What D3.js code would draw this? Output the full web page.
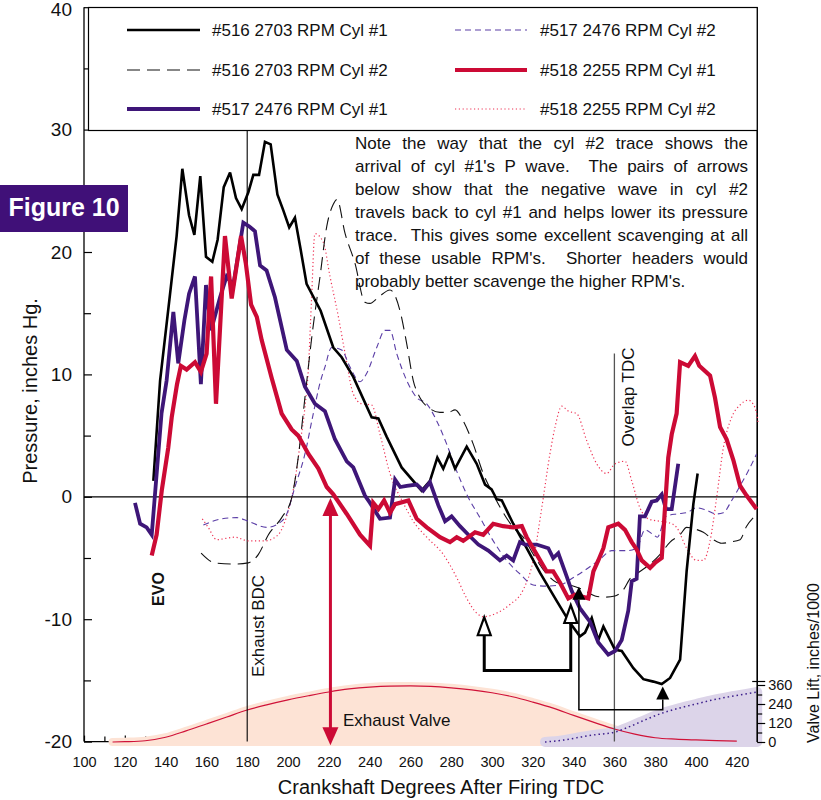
<!DOCTYPE html>
<html><head><meta charset="utf-8">
<script src="https://cdn.jsdelivr.net/npm/d3@7"></script>
<style>
body{margin:0;background:#fff;}
svg{display:block;font-family:"Liberation Sans",Arial,Helvetica,sans-serif;}
</style></head><body>
<svg id="c" width="821" height="800"></svg>
<script>
// ---------------- DATA ----------------
const xTicks = [100,120,140,160,180,200,220,240,260,280,300,320,340,360,380,400,420];
const yTicks = [-20,-10,0,10,20,30,40];
const liftTicks = [0,120,240,360];

// [crank degrees, pressure inches Hg]
const s516c1 = [[134,1.3],[137.3,9.5],[142.2,16.6],[145.4,21.3],[148.2,26.8],[151.5,23.0],[154.1,21.4],[157,26.2],[159.8,19.6],[162.9,19.2],[165.5,21.0],[168.5,25.3],[171.6,26.5],[174.5,24.4],[177.3,23.5],[180.6,24.9],[183,26.3],[185.8,26.3],[188.7,29.0],[191.5,28.8],[194.8,24.7],[197.7,23.4],[200.6,22.0],[203.4,22.8],[206.2,20.2],[209.1,17.4],[216,15.2],[222.2,12.2],[226.3,11.4],[232,9.8],[241,6.5],[244.3,6.4],[248.4,4.9],[255.7,2.4],[265.5,0.5],[269.6,1.3],[273.2,3.2],[276.1,2.3],[279.1,3.5],[281.9,2.3],[287.6,4.1],[292.5,2.7],[296.6,1.0],[299.8,0.6],[302.3,-0.2],[304.8,-0.3],[310.4,-2.2],[317,-4.2],[323.5,-6.2],[331.7,-8.5],[338.2,-10.3],[343.1,-11.4],[345.6,-11.1],[348.9,-9.9],[352.1,-11.7],[354.6,-10.6],[360.3,-12.5],[363.6,-12.6],[369.3,-14.0],[374.2,-14.9],[379.1,-15.1],[383.2,-15.3],[387.3,-14.8],[392.2,-13.3],[395.4,-6.1],[398.7,-0.6],[400.8,1.9]];

const s516c2 = [[157.4,-4.6],[164.2,-5.4],[174,-5.5],[180.5,-5.4],[185.5,-4.7],[190.4,-3.1],[196.9,-1.7],[201.8,-0.1],[205,3.2],[208.3,8.1],[212,13.5],[215.7,18.0],[219,22.1],[222.2,23.9],[224,24.3],[228,21.5],[232.8,19.1],[237.7,15.9],[240.2,15.8],[244.3,16.3],[250,16.9],[254.9,15.2],[258.2,12.5],[261.4,9.5],[264.7,8.1],[269.6,7.2],[274.5,6.9],[278.6,6.9],[281.9,7.1],[285.9,6.2],[290.8,4.3],[295.7,1.9],[300.6,0.2],[304.8,-1.1],[310.4,-2.5],[315.3,-3.3],[320.2,-4.7],[326.8,-6.3],[331.7,-7.0],[338.2,-7.2],[344.8,-7.6],[350.5,-8.1],[355.4,-8.2],[360.3,-8.1],[364.4,-7.6],[367.6,-6.7],[372.5,-6.1],[377.5,-5.5],[382.4,-4.7],[387.3,-3.7],[392.2,-3.1],[395.4,-2.5],[398.7,-2.6],[403.6,-2.9],[408.5,-3.5],[412.6,-3.8],[416.6,-3.7],[421.6,-3.5],[424.8,-2.4],[428.1,-1.7],[430,-1.4]];

const s517c1 = [[125,-0.5],[127.5,-2.2],[130.7,-2.5],[133.2,-3.1],[138,6.8],[140.5,9.5],[143.8,15.1],[146.2,10.9],[149.2,14.4],[151.5,16.6],[154.4,18.0],[157.3,9.2],[159.8,17.3],[162.3,13.6],[166.7,16.3],[169.9,18.0],[173.2,17.3],[178.1,22.4],[180.9,22.1],[183.8,21.7],[186.3,18.9],[189.5,18.5],[193.6,16.3],[199.4,12.0],[204.3,11.1],[208.3,9.0],[213.2,7.6],[218.1,7.0],[223,4.7],[228.8,2.9],[232,2.4],[237.7,0.1],[240.2,-0.5],[245.1,-1.8],[250,-1.7],[252.5,1.4],[255,0.8],[258.2,0.9],[263.1,1.0],[266.3,0.5],[269.6,1.2],[273.7,-0.7],[277,-2.0],[280.2,-1.6],[284.3,-2.4],[288.4,-3.1],[293.3,-3.9],[298.2,-4.4],[303.9,-5.2],[307.2,-4.8],[310.4,-5.2],[313.7,-3.7],[316.2,-3.9],[321.9,-3.9],[327.6,-4.2],[330,-5.0],[332.5,-4.6],[336.6,-6.5],[339.1,-7.7],[343.1,-9.1],[348,-10.2],[352.1,-11.9],[357,-12.9],[360.3,-12.6],[363.6,-11.7],[366.8,-9.3],[368.5,-6.9],[370.9,-6.7],[372.5,-1.6],[375,-1.6],[378.3,-0.4],[380.7,-0.3],[383.2,0.2],[385.3,-1.0],[388.1,-1.0],[391.3,2.7]];

const s517c2 = [[158.5,-2.3],[167.5,-1.8],[174.8,-1.7],[180.5,-2.0],[189.5,-2.5],[195.2,-2.2],[199.4,-1.4],[203.4,0.8],[208.3,3.5],[212.4,6.8],[215.7,9.3],[218.1,10.6],[221.4,12.2],[226.3,12.0],[230.4,10.6],[235.3,9.4],[238.6,10.1],[243.5,12.2],[247.5,13.6],[250,13.6],[253.3,11.7],[258.2,9.5],[263.1,8.1],[268,7.6],[272.9,6.2],[277.8,4.3],[282.7,2.1],[287.6,0.2],[294.1,-1.7],[300.6,-3.6],[307.2,-5.2],[313.7,-6.3],[320.2,-7.2],[326.8,-7.3],[333.3,-7.2],[339.9,-6.6],[346.4,-5.9],[353,-5.1],[358.7,-4.4],[366,-4.4],[370.9,-4.2],[375,-2.7],[379.1,-3.1],[381,-3.3],[385.3,-1.6],[390.5,-1.4],[395.4,-1.3],[400.3,-0.9],[405.2,-1.1],[410.1,-1.4],[413.4,-1.3],[417.5,-0.3],[421.6,0.9],[425.6,2.1],[429.7,3.5]];

const s518c1 = [[133.2,-4.8],[135.6,-3.1],[138.1,0.5],[141.3,4.0],[143,6.5],[145.6,9.2],[147.5,10.7],[150.3,10.4],[154.4,11.0],[157.3,10.2],[160.1,11.7],[162.3,18.0],[164.7,7.6],[169.1,21.3],[172.4,16.2],[177,21.3],[179.3,19.1],[181.9,15.7],[184.7,14.7],[187.1,12.8],[192,9.7],[196.9,6.8],[201.8,5.5],[205,5.0],[210,3.5],[214.9,2.3],[219,0.8],[222.2,0.2],[228.8,-1.4],[235.3,-3.1],[240.2,-4.0],[241.8,-0.5],[244.3,-1.0],[247.1,-0.3],[250,-1.3],[252.5,-0.6],[259,-0.3],[263.1,-1.8],[268,-2.5],[274.5,-3.3],[279.4,-3.7],[282.7,-3.3],[285.9,-3.6],[291.7,-2.9],[295.7,-3.1],[300.6,-2.2],[305.5,-2.4],[310.4,-2.5],[314.6,-2.4],[317,-3.3],[321.9,-4.7],[326.8,-6.1],[330,-6.1],[333.3,-7.0],[337.4,-8.3],[340.7,-8.0],[347.2,-8.3],[349.7,-6.1],[352.1,-5.2],[354.6,-4.2],[357,-2.5],[361.9,-2.2],[365.2,-2.7],[368.5,-3.7],[370.9,-4.3],[373.4,-5.2],[377.5,-5.8],[379.9,-5.4],[383.2,-5.0],[386.4,3.2],[388.1,5.1],[390.5,6.8],[392.2,11.0],[396.2,10.7],[399.5,11.5],[401.6,10.7],[406.9,9.9],[409.3,8.1],[411.8,5.7],[415,4.7],[418.3,3.0],[421.6,0.9],[424.8,0.1],[429.7,-1.0]];

const s518c2 = [[158,-1.8],[160.9,-2.5],[165,-3.5],[174,-3.3],[180.5,-3.6],[188.7,-3.6],[195.2,-3.1],[198.5,-2.0],[201,-0.6],[203.4,1.3],[205.9,4.3],[208.3,7.3],[210,10.5],[211.5,16.0],[213.2,21.5],[217.3,20.8],[220.6,18.0],[224.7,14.7],[228,11.7],[232,8.4],[236.1,7.6],[241,7.5],[245.1,5.1],[250,1.9],[256.5,-0.5],[261.4,-2.0],[268,-3.3],[276.1,-4.7],[282.7,-6.6],[287.6,-8.3],[292.5,-9.5],[295.7,-9.8],[302.3,-9.5],[308.8,-8.8],[315.3,-7.6],[320.2,-5.2],[324.4,-0.9],[328.4,3.5],[330.9,5.7],[334.2,7.4],[337.4,7.0],[341.5,6.8],[346.4,4.6],[351.3,2.7],[356.2,1.9],[360.3,2.7],[365.2,2.9],[368.5,1.3],[372.5,-0.9],[376.6,-1.8],[382.4,-2.0],[386.4,-2.1],[390.5,-2.5],[395.4,-4.2],[400.3,-5.2],[403.6,-5.2],[406.9,-3.6],[410.1,-0.1],[413.4,4.0],[417.5,6.5],[421.6,7.5],[425.6,7.9],[428.9,7.3],[430.5,6.0]];

// valve lift, inches/1000
const exhaustLift = [[114,0],[120,2],[130,8],[140,30],[150,70],[160,114],[170,158],[180,202],[190,236],[200,266],[210,292],[220,316],[230,335],[240,347],[250,353],[260,354],[270,351],[280,342],[290,329],[300,311],[310,286],[320,252],[330,214],[340,168],[350,124],[360,82],[370,50],[380,27],[390,18],[400,13],[410,9],[420,5]];
const intakeLift = [[326,0],[335,12],[343,30],[350,45],[360,62],[368,100],[376,145],[384,185],[392,215],[400,240],[408,265],[416,285],[424,302],[430,316]];

const seriesNames = ["#516 2703 RPM Cyl #1","#516 2703 RPM Cyl #2","#517 2476 RPM Cyl #1","#517 2476 RPM Cyl #2","#518 2255 RPM Cyl #1","#518 2255 RPM Cyl #2"];

const noteLines = [
 "Note the way that the cyl #2 trace shows the",
 "arrival of cyl #1's P wave.  The pairs of arrows",
 "below show that the negative wave in cyl #2",
 "travels back to cyl #1 and helps lower its pressure",
 "trace.  This gives some excellent scavenging at all",
 "of these usable RPM's.  Shorter headers would",
 "probably better scavenge the higher RPM's."
];

// annotation anchors in data units
const bdcDeg = 180, tdcDeg = 360, tdcTopP = 11.7;
const redArrow = {deg:220.8, fromP:-0.1, toP:-20.3};
const hollowPair = {l:296.2, lTip:-9.84, r:338.6, rTip:-8.84, base:-14.2};
const solidPair = {l:342.6, lTip:-7.34, r:383.7, rTip:-15.5, base:-17.4};

// ---------------- CHART ----------------
const svg = d3.select('#c');
const x = d3.scaleLinear().domain([100,430]).range([84,757.2]);
const y = d3.scaleLinear().domain([-20,40]).range([741.6,7.2]);
const yL = d3.scaleLinear().domain([0,360]).range([742,685]);
const FONT = '"Liberation Sans",Arial,Helvetica,sans-serif';
const fmt = d => String(d);

const purple = '#3e1678', red = '#cc0a35';

function styleAxis(g, fs){
  g.attr('font-family', FONT);
  g.selectAll('text').attr('font-size', fs).attr('fill','#111');
  g.selectAll('line').attr('stroke','#000').attr('stroke-width',1.2);
  g.select('.domain').remove();
}
const gB = svg.append('g').attr('transform',`translate(0,${y(-20)})`)
  .call(d3.axisBottom(x).tickValues(xTicks).tickSizeInner(-6).tickSizeOuter(0).tickPadding(15).tickFormat(fmt));
styleAxis(gB, 14.5);
const gB2 = svg.append('g').attr('transform',`translate(0,${y(-20)})`)
  .call(d3.axisBottom(x).tickValues(d3.range(110,431,20)).tickSizeInner(-5).tickSizeOuter(0).tickFormat(''));
styleAxis(gB2, 1);
svg.append('line').attr('x1',x(100)).attr('x2',x(430)).attr('y1',y(-20)).attr('y2',y(-20)).attr('stroke','#000').attr('stroke-width',1.3);

// valve lift fills
const exArea = d3.area().x(d=>x(d[0])).y0(yL(0)).y1(d=>yL(d[1])).curve(d3.curveMonotoneX);
svg.append('path').datum(exhaustLift).attr('d',exArea).attr('fill','#fde3d5').attr('stroke','#fde3d5').attr('stroke-width',8).attr('stroke-linejoin','round');
svg.append('path').datum(intakeLift).attr('d',exArea).attr('fill','#dcd4e9').attr('stroke','#dcd4e9').attr('stroke-width',10).attr('stroke-linejoin','round');
const liftLine = d3.line().x(d=>x(d[0])).y(d=>yL(d[1])).curve(d3.curveMonotoneX);
svg.append('path').datum(exhaustLift).attr('d',liftLine).attr('fill','none').attr('stroke','#d01238').attr('stroke-width',1.2);
svg.append('path').datum(intakeLift).attr('d',liftLine).attr('fill','none').attr('stroke','#3c1e8c').attr('stroke-width',1.5).attr('stroke-dasharray','1.5,3');

// left axis
const gLft = svg.append('g').attr('transform',`translate(${x(100)},0)`)
  .call(d3.axisLeft(y).tickValues(yTicks).tickSizeInner(-8).tickSizeOuter(0).tickPadding(12).tickFormat(fmt));
styleAxis(gLft, 19);
gLft.selectAll('.tick text').filter(d=>d===40).attr('dy','0.42em');
const gLft2 = svg.append('g').attr('transform',`translate(${x(100)},0)`)
  .call(d3.axisLeft(y).tickValues(d3.range(-15,40,10)).tickSizeInner(-7).tickSizeOuter(0).tickFormat(''));
styleAxis(gLft2, 1);
svg.append('line').attr('x1',x(100)).attr('x2',x(100)).attr('y1',y(40)).attr('y2',y(-20)).attr('stroke','#000').attr('stroke-width',1.3);

// right axis
svg.append('line').attr('x1',x(430)).attr('x2',x(430)).attr('y1',y(40)).attr('y2',yL(0)).attr('stroke','#000').attr('stroke-width',1.6);
const gR = svg.append('g').attr('transform',`translate(${x(430)},0)`)
  .call(d3.axisRight(yL).tickValues(liftTicks).tickSizeInner(8).tickSizeOuter(0).tickPadding(3).tickFormat(fmt));
styleAxis(gR, 14.5);
const gR2 = svg.append('g').attr('transform',`translate(${x(430)},0)`)
  .call(d3.axisRight(yL).tickValues([60,180,300]).tickSizeInner(5).tickSizeOuter(0).tickFormat(''));
styleAxis(gR2, 1);
svg.append('line').attr('x1',x(430)-5).attr('x2',x(430)+8).attr('y1',yL(360)-3.5).attr('y2',yL(360)-3.5).attr('stroke','#000').attr('stroke-width',1.2);

// reference lines
svg.append('line').attr('x1',x(bdcDeg)).attr('x2',x(bdcDeg)).attr('y1',y(40)).attr('y2',y(-20)).attr('stroke','#000').attr('stroke-width',1.1);
svg.append('line').attr('x1',x(tdcDeg)).attr('x2',x(tdcDeg)).attr('y1',y(tdcTopP)).attr('y2',y(-20)).attr('stroke','#555').attr('stroke-width',1.3);
svg.append('line').attr('x1',x(100)).attr('x2',x(430)).attr('y1',y(0)).attr('y2',y(0)).attr('stroke','#000').attr('stroke-width',1.2);

// traces
const styles = {
  s516c1:{data:s516c1, stroke:'#000', w:2.6, dash:null, curve:d3.curveLinear},
  s516c2:{data:s516c2, stroke:'#111', w:1.1, dash:'13,7', curve:d3.curveMonotoneX},
  s517c1:{data:s517c1, stroke:purple, w:3.8, dash:null, curve:d3.curveLinear},
  s517c2:{data:s517c2, stroke:'#5b3ea6', w:1.1, dash:'6,4', curve:d3.curveMonotoneX},
  s518c1:{data:s518c1, stroke:red, w:4.2, dash:null, curve:d3.curveLinear},
  s518c2:{data:s518c2, stroke:'#ee3355', w:1.2, dash:'1.2,2.6', curve:d3.curveMonotoneX}
};
const order = ['s518c2','s517c2','s516c2','s516c1','s517c1','s518c1'];
order.forEach(k=>{
  const s = styles[k];
  const ln = d3.line().x(d=>x(d[0])).y(d=>y(d[1])).curve(s.curve);
  svg.append('path').datum(s.data).attr('d',ln).attr('fill','none')
    .attr('stroke',s.stroke).attr('stroke-width',s.w).attr('stroke-linejoin','miter').attr('stroke-miterlimit',3)
    .attr('stroke-dasharray',s.dash);
});

// red double arrow
(function(){
  const ax = x(redArrow.deg), y1 = y(redArrow.fromP), y2 = y(redArrow.toP), hw=8, hl=18;
  svg.append('line').attr('x1',ax).attr('x2',ax).attr('y1',y1+hl-2).attr('y2',y2-hl+2).attr('stroke',red).attr('stroke-width',3);
  svg.append('path').attr('d',`M${ax},${y1}L${ax-hw},${y1+hl}L${ax+hw},${y1+hl}Z`).attr('fill',red);
  svg.append('path').attr('d',`M${ax},${y2}L${ax-hw},${y2-hl}L${ax+hw},${y2-hl}Z`).attr('fill',red);
})();

// hollow arrow pair
(function(){
  const p=hollowPair, hw=6.5, hl=18;
  const xl=x(p.l), xr=x(p.r), yl=y(p.lTip), yr=y(p.rTip), yb=y(p.base);
  svg.append('path').attr('d',`M${xl},${yl+hl}V${yb}H${xr}V${yr+hl}`).attr('fill','none').attr('stroke','#000').attr('stroke-width',3).attr('stroke-linejoin','miter');
  [[xl,yl],[xr,yr]].forEach(([a,b])=>{
    svg.append('path').attr('d',`M${a},${b}L${a-hw},${b+hl}L${a+hw},${b+hl}Z`).attr('fill','#fff').attr('stroke','#000').attr('stroke-width',2.2).attr('stroke-linejoin','miter');
  });
})();
// solid arrow pair
(function(){
  const p=solidPair, hw=6.5, hl=13;
  const xl=x(p.l), xr=x(p.r), yl=y(p.lTip), yr=y(p.rTip), yb=y(p.base);
  svg.append('path').attr('d',`M${xl},${yl+hl}V${yb}H${xr}V${yr+hl}`).attr('fill','none').attr('stroke','#000').attr('stroke-width',1.5);
  [[xl,yl],[xr,yr]].forEach(([a,b])=>{
    svg.append('path').attr('d',`M${a},${b}L${a-hw},${b+hl}L${a+hw},${b+hl}Z`).attr('fill','#000');
  });
})();

// text labels
function vtext(cx, cy, str, fs, weight){
  svg.append('text').attr('transform',`translate(${cx},${cy}) rotate(-90)`).attr('text-anchor','middle').attr('dy','0.35em')
    .attr('font-family',FONT).attr('font-size',fs).attr('font-weight',weight||'normal').attr('fill','#111').text(str);
}
vtext(158, 589, 'EVO', 16, 'bold');
vtext(258, 626, 'Exhaust BDC', 17);
vtext(628, 397, 'Overlap TDC', 17);
vtext(30, 391, 'Pressure, inches Hg.', 20);
vtext(813, 663, 'Valve Lift, inches/1000', 16);
svg.append('text').attr('x',441).attr('y',794).attr('text-anchor','middle').attr('font-family',FONT).attr('font-size',20).attr('fill','#111').text('Crankshaft Degrees After Firing TDC');
svg.append('text').attr('x',343).attr('y',726).attr('font-family',FONT).attr('font-size',17).attr('fill','#111').text('Exhaust Valve');

// Figure 10 badge
svg.append('rect').attr('x',0).attr('y',185).attr('width',128).attr('height',47).attr('fill','#401078');
svg.append('text').attr('x',64).attr('y',216).attr('text-anchor','middle').attr('font-family',FONT).attr('font-size',25).attr('font-weight','bold').attr('fill','#fff').text('Figure 10');

// legend
svg.append('rect').attr('x',88.5).attr('y',7.5).attr('width',668.7).attr('height',123).attr('fill','#fff').attr('stroke','#000').attr('stroke-width',1.2);
const legKeys = ['s516c1','s516c2','s517c1','s517c2','s518c1','s518c2'];
const colX = [[127,200,212],[455,527,540]], rowY = [30,70,109];
legKeys.forEach((k,i)=>{
  const s = styles[k], c = colX[Math.floor(i/3)], ry = rowY[i%3];
  svg.append('line').attr('x1',c[0]).attr('x2',c[1]).attr('y1',ry).attr('y2',ry)
    .attr('stroke',s.stroke).attr('stroke-width',s.w).attr('stroke-dasharray',s.dash);
  svg.append('text').attr('x',c[2]).attr('y',ry+6).attr('font-family',FONT).attr('font-size',17).attr('fill','#111').text(seriesNames[i]);
});

// justified note
(function(){
  const x0 = 355, x1 = 748, y0 = 149, lh = 23, fs = 17;
  const g = svg.append('g').attr('font-family',FONT).attr('font-size',fs).attr('fill','#111');
  const meas = g.append('text').attr('x',-1000).attr('y',-1000);
  const wOf = s => { meas.text(s); return meas.node().getComputedTextLength(); };
  noteLines.forEach((line,i)=>{
    const yy = y0 + i*lh;
    if(i === noteLines.length-1){
      g.append('text').attr('x',x0).attr('y',yy).text(line);
      return;
    }
    const words = line.split(/ +/), gaps = line.match(/ +/g).map(s=>s.length);
    const ww = words.map(wOf);
    const perSpace = (x1 - x0 - d3.sum(ww)) / d3.sum(gaps);
    let cx = x0;
    words.forEach((w,j)=>{
      g.append('text').attr('x',cx).attr('y',yy).text(w);
      cx += ww[j] + (j<gaps.length ? gaps[j]*perSpace : 0);
    });
  });
  meas.remove();
})();
</script>
</body></html>
